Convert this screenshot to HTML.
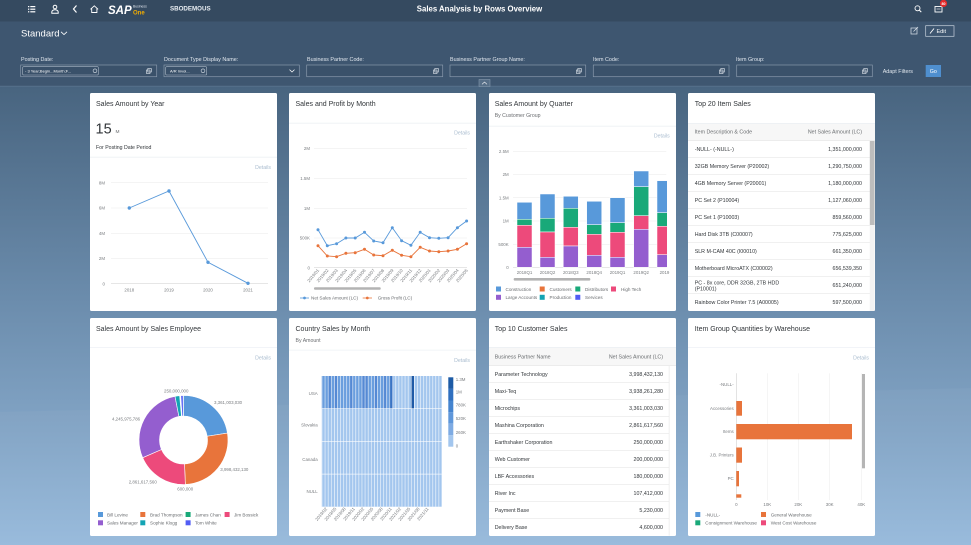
<!DOCTYPE html>
<html><head><meta charset="utf-8"><style>
html,body{margin:0;padding:0;width:971px;height:545px;overflow:hidden;background:#4a6681;}
svg{display:block;font-family:"Liberation Sans",sans-serif;}
.t{font-size:7px;fill:#32363a;}
.st{font-size:5.2px;fill:#6a6d70;}
.ax{font-size:4.4px;fill:#7a7d80;}
.det{font-size:5.2px;fill:#a9bccf;}
.lg{font-size:4.6px;fill:#6a6d70;}
.tb{font-size:5.3px;fill:#32363a;}
.th{font-size:5.3px;fill:#6a6d70;}
.fl{font-size:5.4px;fill:#e1e7ee;}
</style></head><body>
<svg width="971" height="545" viewBox="0 0 971 545" xmlns="http://www.w3.org/2000/svg">
<defs>
<linearGradient id="bg" x1="0" y1="86" x2="0" y2="545" gradientUnits="userSpaceOnUse">
<stop offset="0" stop-color="#48647f"/><stop offset="0.45" stop-color="#6a8bab"/><stop offset="1" stop-color="#96b9db"/>
</linearGradient>
<pattern id="vl" x="321.7" y="0" width="3.077" height="10" patternUnits="userSpaceOnUse"><rect x="0" y="0" width="0.55" height="10" fill="#ffffff"/></pattern>
<clipPath id="c3"><rect x="489" y="140" width="178" height="140"/></clipPath>
</defs>
<!-- background -->
<rect x="0" y="0" width="971" height="545" fill="url(#bg)"/>
<polygon points="0,412 971,388 971,545 0,545" fill="#ffffff" opacity="0.03"/>
<rect x="0" y="21.5" width="971" height="65" fill="#3e5670"/>
<rect x="0" y="0" width="971" height="21.5" fill="#354a60"/>
<rect x="0" y="85.8" width="971" height="0.7" fill="#5d7690"/>

<!-- header icons -->
<g fill="#ffffff">
<rect x="28" y="6" width="1.3" height="1.2"/><rect x="30.3" y="6" width="5" height="1.2"/>
<rect x="28" y="8.6" width="1.3" height="1.2"/><rect x="30.3" y="8.6" width="5" height="1.2"/>
<rect x="28" y="11.2" width="1.3" height="1.2"/><rect x="30.3" y="11.2" width="5" height="1.2"/>
</g>
<circle cx="55" cy="7" r="1.8" fill="none" stroke="#fff" stroke-width="1"/>
<path d="M51.8,13.2 v-1.2 a3.2,2.2 0 0 1 6.4,0 v1.2 z" fill="none" stroke="#fff" stroke-width="1"/>
<polyline points="76.5,5.5 73.5,9 76.5,12.5" fill="none" stroke="#fff" stroke-width="1.2"/>
<path d="M90.5,9.3 L94.3,5.8 L98.1,9.3 M91.7,8.5 V12.5 H96.9 V8.5" fill="none" stroke="#fff" stroke-width="0.9"/>
<text x="108" y="14" font-size="11.5" font-weight="bold" fill="#ffffff" font-style="italic">SAP</text>
<text x="133" y="7.3" font-size="3.4" fill="#e0e6ee">Business</text>
<text x="133" y="14.6" font-size="6" font-weight="bold" fill="#f0ab00">One</text>
<text x="170" y="10.5" font-size="6.2" font-weight="bold" fill="#e9eef3">SBODEMOUS</text>
<text x="479.5" y="11.3" font-size="7.8" font-weight="bold" fill="#ffffff" text-anchor="middle">Sales Analysis by Rows Overview</text>
<circle cx="917.5" cy="8.3" r="2.5" fill="none" stroke="#fff" stroke-width="0.9"/>
<line x1="919.3" y1="10.1" x2="921.3" y2="12.1" stroke="#fff" stroke-width="1"/>
<rect x="935" y="6.5" width="7" height="5.5" fill="none" stroke="#fff" stroke-width="0.9"/>
<line x1="936.5" y1="9" x2="940.5" y2="9" stroke="#fff" stroke-width="0.6"/>
<circle cx="943.5" cy="3.4" r="3.6" fill="#e52929"/>
<text x="943.5" y="4.8" font-size="3.6" fill="#fff" text-anchor="middle" font-weight="bold">80</text>

<!-- Standard -->
<text x="21" y="36.5" font-size="9.5" fill="#ffffff">Standard</text>
<polyline points="61,31.8 64,34.6 67,31.8" fill="none" stroke="#fff" stroke-width="0.8"/>
<!-- share + edit -->
<rect x="911" y="28" width="6" height="6" fill="none" stroke="#dfe6ee" stroke-width="0.7"/>
<line x1="913.5" y1="31.5" x2="918" y2="27" stroke="#dfe6ee" stroke-width="0.7"/>
<rect x="925.7" y="25.7" width="28.3" height="10.6" fill="none" stroke="#c7d1dc" stroke-width="0.7"/>
<line x1="930" y1="33.5" x2="934" y2="28.5" stroke="#fff" stroke-width="0.9"/>
<text x="936.5" y="33" font-size="5.5" fill="#ffffff">Edit</text>

<!-- filter labels -->
<text class="fl" x="21" y="61">Posting Date:</text>
<text class="fl" x="164" y="61">Document Type Display Name:</text>
<text class="fl" x="307" y="61">Business Partner Code:</text>
<text class="fl" x="450" y="61">Business Partner Group Name:</text>
<text class="fl" x="593" y="61">Item Code:</text>
<text class="fl" x="736" y="61">Item Group:</text>
<g fill="#3a516a" stroke="#8798ab" stroke-width="0.7">
<rect x="20.7" y="65" width="136" height="11.7"/>
<rect x="164" y="65" width="135.3" height="11.7"/>
<rect x="306.7" y="65" width="136" height="11.7"/>
<rect x="450" y="65" width="135.7" height="11.7"/>
<rect x="593.3" y="65" width="135.7" height="11.7"/>
<rect x="736.7" y="65" width="135.6" height="11.7"/>
</g>
<rect x="22.7" y="66.7" width="75.6" height="8.3" rx="1" fill="none" stroke="#aab8c6" stroke-width="0.6"/>
<text x="25" y="72.4" font-size="4" fill="#ffffff">- 3 Year;Begin...Month;F...</text>
<circle cx="95" cy="70.8" r="1.9" fill="none" stroke="#dfe6ee" stroke-width="0.6"/>
<rect x="165.7" y="66.7" width="41" height="8.3" rx="1" fill="none" stroke="#aab8c6" stroke-width="0.6"/>
<text x="170" y="72.4" font-size="4" fill="#ffffff">A/R Invoi...</text>
<circle cx="203" cy="70.8" r="1.9" fill="none" stroke="#dfe6ee" stroke-width="0.6"/>
<polyline points="289.5,69.6 292,72 294.5,69.6" fill="none" stroke="#fff" stroke-width="0.7"/>
<g fill="none" stroke="#e6ecf2" stroke-width="0.6">
<rect x="146.5" y="70" width="3.5" height="3.5"/><rect x="147.8" y="68.5" width="3.5" height="3.5"/>
<rect x="433.5" y="70" width="3.5" height="3.5"/><rect x="434.8" y="68.5" width="3.5" height="3.5"/>
<rect x="576.5" y="70" width="3.5" height="3.5"/><rect x="577.8" y="68.5" width="3.5" height="3.5"/>
<rect x="719.5" y="70" width="3.5" height="3.5"/><rect x="720.8" y="68.5" width="3.5" height="3.5"/>
<rect x="862.5" y="70" width="3.5" height="3.5"/><rect x="863.8" y="68.5" width="3.5" height="3.5"/>
</g>
<text x="882.7" y="73" font-size="5.4" fill="#e1e7ee">Adapt Filters</text>
<rect x="925.7" y="65" width="15.3" height="12" fill="#4f8fcf"/>
<text x="933.3" y="72.8" font-size="5.3" fill="#ffffff" text-anchor="middle">Go</text>
<rect x="479" y="79.5" width="11" height="7" fill="#566e87" stroke="#8fa2b5" stroke-width="0.5"/>
<polyline points="482,84.3 484.5,82 487,84.3" fill="none" stroke="#fff" stroke-width="0.6"/>

<!-- cards -->
<g fill="#ffffff">
<rect x="90" y="93" width="187" height="218" rx="1.5"/>
<rect x="289" y="93" width="187" height="218" rx="1.5"/>
<rect x="489" y="93" width="187" height="218" rx="1.5"/>
<rect x="688" y="93" width="187" height="218" rx="1.5"/>
<rect x="90" y="318" width="187" height="218" rx="1.5"/>
<rect x="289" y="318" width="187" height="218" rx="1.5"/>
<rect x="489" y="318" width="187" height="218" rx="1.5"/>
<rect x="688" y="318" width="187" height="218" rx="1.5"/>
</g>

<!-- ===== Card 1 ===== -->
<text class="t" x="96" y="106">Sales Amount by Year</text>
<text x="95.5" y="133.5" font-size="14.5" fill="#32363a">15</text>
<text x="115.5" y="133" font-size="4.8" fill="#6a6d70">M</text>
<text x="96" y="149" font-size="5.2" fill="#32363a">For Posting Date Period</text>
<rect x="90" y="156.8" width="187" height="0.7" fill="#e8edf2"/>
<text class="det" x="271" y="169" text-anchor="end">Details</text>
<g stroke="#eeeeee" stroke-width="0.6">
<line x1="111" y1="182.7" x2="268" y2="182.7"/><line x1="111" y1="208" x2="268" y2="208"/>
<line x1="111" y1="233.3" x2="268" y2="233.3"/><line x1="111" y1="258.3" x2="268" y2="258.3"/>
</g>
<line x1="111" y1="283.7" x2="268" y2="283.7" stroke="#d8d8d8" stroke-width="0.6"/>
<g class="ax" text-anchor="end">
<text x="105" y="184.3">8M</text><text x="105" y="209.6">6M</text><text x="105" y="234.9">4M</text><text x="105" y="259.9">2M</text><text x="105" y="285.3">0</text>
</g>
<g class="ax" text-anchor="middle">
<text x="129.3" y="291.3">2018</text><text x="169" y="291.3">2019</text><text x="208" y="291.3">2020</text><text x="248" y="291.3">2021</text>
</g>
<polyline points="129.3,208 169,191 208,262.3 248,283.3" fill="none" stroke="#5899da" stroke-width="0.9"/>
<g fill="#5899da"><circle cx="129.3" cy="208" r="1.7"/><circle cx="169" cy="191" r="1.7"/><circle cx="208" cy="262.3" r="1.7"/><circle cx="248" cy="283.3" r="1.7"/></g>

<!-- ===== Card 2 ===== -->
<text class="t" x="295.5" y="106">Sales and Profit by Month</text>
<rect x="289" y="122.8" width="187" height="0.7" fill="#e8edf2"/>
<text class="det" x="470" y="134.5" text-anchor="end">Details</text>
<g stroke="#eeeeee" stroke-width="0.6">
<line x1="314" y1="148.3" x2="467" y2="148.3"/><line x1="314" y1="178.3" x2="467" y2="178.3"/>
<line x1="314" y1="208.3" x2="467" y2="208.3"/><line x1="314" y1="238" x2="467" y2="238"/>
</g>
<line x1="314" y1="267.7" x2="467" y2="267.7" stroke="#d8d8d8" stroke-width="0.6"/>
<g class="ax" text-anchor="end">
<text x="310" y="149.9">2M</text><text x="310" y="179.9">1.5M</text><text x="310" y="209.9">1M</text><text x="310" y="239.6">500K</text><text x="310" y="269.3">0</text>
</g>
<polyline fill="none" stroke="#5899da" stroke-width="0.9" points="318,229.7 327.3,245.7 336.6,243.7 345.9,238 355.2,238 364.5,232.3 373.7,241 383,242.7 392.3,227.7 401.6,240.7 410.9,245.3 420.2,232.3 429.5,237.7 438.8,238.3 448.1,237.7 457.4,227.7 466.6,221"/>
<polyline fill="none" stroke="#e8743b" stroke-width="0.9" points="318,245.7 327.3,256 336.6,256.7 345.9,253.3 355.2,252.7 364.5,249.3 373.7,255 383,255.7 392.3,250.3 401.6,255.3 410.9,256.7 420.2,247.3 429.5,251 438.8,251.7 448.1,251 457.4,249.3 466.6,243.7"/>
<g fill="#5899da">
<circle cx="318" cy="229.7" r="1.5"/><circle cx="327.3" cy="245.7" r="1.5"/><circle cx="336.6" cy="243.7" r="1.5"/><circle cx="345.9" cy="238" r="1.5"/><circle cx="355.2" cy="238" r="1.5"/><circle cx="364.5" cy="232.3" r="1.5"/><circle cx="373.7" cy="241" r="1.5"/><circle cx="383" cy="242.7" r="1.5"/><circle cx="392.3" cy="227.7" r="1.5"/><circle cx="401.6" cy="240.7" r="1.5"/><circle cx="410.9" cy="245.3" r="1.5"/><circle cx="420.2" cy="232.3" r="1.5"/><circle cx="429.5" cy="237.7" r="1.5"/><circle cx="438.8" cy="238.3" r="1.5"/><circle cx="448.1" cy="237.7" r="1.5"/><circle cx="457.4" cy="227.7" r="1.5"/><circle cx="466.6" cy="221" r="1.5"/>
</g>
<g fill="#e8743b">
<circle cx="318" cy="245.7" r="1.5"/><circle cx="327.3" cy="256" r="1.5"/><circle cx="336.6" cy="256.7" r="1.5"/><circle cx="345.9" cy="253.3" r="1.5"/><circle cx="355.2" cy="252.7" r="1.5"/><circle cx="364.5" cy="249.3" r="1.5"/><circle cx="373.7" cy="255" r="1.5"/><circle cx="383" cy="255.7" r="1.5"/><circle cx="392.3" cy="250.3" r="1.5"/><circle cx="401.6" cy="255.3" r="1.5"/><circle cx="410.9" cy="256.7" r="1.5"/><circle cx="420.2" cy="247.3" r="1.5"/><circle cx="429.5" cy="251" r="1.5"/><circle cx="438.8" cy="251.7" r="1.5"/><circle cx="448.1" cy="251" r="1.5"/><circle cx="457.4" cy="249.3" r="1.5"/><circle cx="466.6" cy="243.7" r="1.5"/>
</g>
<g class="ax" font-size="3.9" text-anchor="end">
<text transform="translate(319.5,270.5) rotate(-50)">2019/01</text>
<text transform="translate(328.8,270.5) rotate(-50)">2019/02</text>
<text transform="translate(338.1,270.5) rotate(-50)">2019/03</text>
<text transform="translate(347.4,270.5) rotate(-50)">2019/04</text>
<text transform="translate(356.7,270.5) rotate(-50)">2019/05</text>
<text transform="translate(366,270.5) rotate(-50)">2019/06</text>
<text transform="translate(375.2,270.5) rotate(-50)">2019/07</text>
<text transform="translate(384.5,270.5) rotate(-50)">2019/08</text>
<text transform="translate(393.8,270.5) rotate(-50)">2019/09</text>
<text transform="translate(403.1,270.5) rotate(-50)">2019/10</text>
<text transform="translate(412.4,270.5) rotate(-50)">2019/11</text>
<text transform="translate(421.7,270.5) rotate(-50)">2019/12</text>
<text transform="translate(431,270.5) rotate(-50)">2020/01</text>
<text transform="translate(440.3,270.5) rotate(-50)">2020/02</text>
<text transform="translate(449.6,270.5) rotate(-50)">2020/03</text>
<text transform="translate(458.9,270.5) rotate(-50)">2020/04</text>
<text transform="translate(468.1,270.5) rotate(-50)">2020/05</text>
</g>
<rect x="314" y="287.2" width="66.7" height="2.6" rx="1" fill="#b3b3b3"/>
<line x1="300" y1="298" x2="309" y2="298" stroke="#5899da" stroke-width="0.8"/><circle cx="304.5" cy="298" r="1.4" fill="#5899da"/>
<text class="lg" x="311" y="299.7">Net Sales Amount (LC)</text>
<line x1="362.7" y1="298" x2="372" y2="298" stroke="#e8743b" stroke-width="0.8"/><circle cx="367.3" cy="298" r="1.4" fill="#e8743b"/>
<text class="lg" x="377.7" y="299.7">Gross Profit (LC)</text>

<!-- ===== Card 3 ===== -->
<text class="t" x="494.7" y="106">Sales Amount by Quarter</text>
<text class="st" x="494.7" y="117">By Customer Group</text>
<rect x="489" y="125.8" width="187" height="0.7" fill="#e8edf2"/>
<text class="det" x="669.7" y="137.5" text-anchor="end">Details</text>
<g stroke="#eeeeee" stroke-width="0.6">
<line x1="513" y1="151.3" x2="666.3" y2="151.3"/><line x1="513" y1="174.3" x2="666.3" y2="174.3"/>
<line x1="513" y1="197.7" x2="666.3" y2="197.7"/><line x1="513" y1="221" x2="666.3" y2="221"/>
<line x1="513" y1="244.3" x2="666.3" y2="244.3"/>
</g>
<line x1="513" y1="267.3" x2="666.3" y2="267.3" stroke="#d8d8d8" stroke-width="0.6"/>
<g class="ax" text-anchor="end">
<text x="508.7" y="152.9">2.5M</text><text x="508.7" y="175.9">2M</text><text x="508.7" y="199.3">1.5M</text><text x="508.7" y="222.6">1M</text><text x="508.7" y="245.9">500K</text><text x="508.7" y="268.9">0</text>
</g>
<g clip-path="url(#c3)" stroke="#ffffff" stroke-width="0.5">
<rect x="517" y="202.3" width="15" height="17" fill="#5899da"/><rect x="517" y="219.3" width="15" height="6" fill="#19a979"/><rect x="517" y="225.3" width="15" height="22" fill="#ed4a7b"/><rect x="517" y="247.3" width="15" height="20" fill="#945ecf"/>
<rect x="540" y="194" width="15" height="24.3" fill="#5899da"/><rect x="540" y="218.3" width="15" height="13.7" fill="#19a979"/><rect x="540" y="232" width="15" height="25.3" fill="#ed4a7b"/><rect x="540" y="257.3" width="15" height="10" fill="#945ecf"/>
<rect x="563.3" y="196.3" width="15" height="12" fill="#5899da"/><rect x="563.3" y="208.3" width="15" height="19" fill="#19a979"/><rect x="563.3" y="227.3" width="15" height="18.7" fill="#ed4a7b"/><rect x="563.3" y="246" width="15" height="21.3" fill="#945ecf"/>
<rect x="586.7" y="201.3" width="15" height="23.4" fill="#5899da"/><rect x="586.7" y="224.7" width="15" height="9.6" fill="#19a979"/><rect x="586.7" y="234.3" width="15" height="21" fill="#ed4a7b"/><rect x="586.7" y="255.3" width="15" height="12" fill="#945ecf"/>
<rect x="610" y="197.7" width="15" height="25" fill="#5899da"/><rect x="610" y="222.7" width="15" height="9.6" fill="#19a979"/><rect x="610" y="232.3" width="15" height="25" fill="#ed4a7b"/><rect x="610" y="257.3" width="15" height="10" fill="#945ecf"/>
<rect x="633.7" y="171" width="15" height="15.7" fill="#5899da"/><rect x="633.7" y="186.7" width="15" height="29" fill="#19a979"/><rect x="633.7" y="215.7" width="15" height="13.6" fill="#ed4a7b"/><rect x="633.7" y="229.3" width="15" height="38" fill="#945ecf"/>
<rect x="657" y="180.7" width="15" height="32" fill="#5899da"/><rect x="657" y="212.7" width="15" height="13.6" fill="#19a979"/><rect x="657" y="226.3" width="15" height="28.4" fill="#ed4a7b"/><rect x="657" y="254.7" width="15" height="12.6" fill="#945ecf"/>
</g>
<g class="ax" text-anchor="middle">
<text x="524.5" y="274.2">2018Q1</text><text x="547.5" y="274.2">2018Q2</text><text x="570.8" y="274.2">2018Q3</text><text x="594.2" y="274.2">2018Q4</text><text x="617.5" y="274.2">2019Q1</text><text x="641.2" y="274.2">2019Q2</text><text x="664.5" y="274.2">2019</text>
</g>
<rect x="513.7" y="278" width="76.6" height="2.6" rx="1" fill="#b3b3b3"/>
<g>
<rect x="496" y="286.5" width="5" height="5" fill="#5899da"/><text class="lg" x="505.5" y="290.8">Construction</text>
<rect x="539.7" y="286.5" width="5" height="5" fill="#e8743b"/><text class="lg" x="549.5" y="290.8">Customers</text>
<rect x="575.3" y="286.5" width="5" height="5" fill="#19a979"/><text class="lg" x="585" y="290.8">Distributors</text>
<rect x="611" y="286.5" width="5" height="5" fill="#ed4a7b"/><text class="lg" x="621" y="290.8">High Tech</text>
<rect x="496" y="294.8" width="5" height="5" fill="#945ecf"/><text class="lg" x="505.5" y="299.1">Large Accounts</text>
<rect x="539.7" y="294.8" width="5" height="5" fill="#13a4b4"/><text class="lg" x="549.5" y="299.1">Production</text>
<rect x="575.3" y="294.8" width="5" height="5" fill="#525df4"/><text class="lg" x="585" y="299.1">Services</text>
</g>

<!-- ===== Card 4 ===== -->
<text class="t" x="694.7" y="106">Top 20 Item Sales</text>
<rect x="688" y="123.3" width="187" height="17.4" fill="#f7f7f7"/>
<rect x="688" y="123" width="187" height="0.6" fill="#e8edf2"/>
<text class="th" x="694.7" y="133.6">Item Description &amp; Code</text>
<text class="th" x="862" y="133.6" text-anchor="end">Net Sales Amount (LC)</text>
<g fill="#e5e5e5">
<rect x="688" y="140.4" width="187" height="0.6"/><rect x="688" y="157.4" width="182" height="0.6"/><rect x="688" y="174.4" width="182" height="0.6"/><rect x="688" y="191.4" width="182" height="0.6"/><rect x="688" y="208.4" width="182" height="0.6"/><rect x="688" y="225.4" width="182" height="0.6"/><rect x="688" y="242.4" width="182" height="0.6"/><rect x="688" y="259.4" width="182" height="0.6"/><rect x="688" y="276.4" width="182" height="0.6"/><rect x="688" y="293.4" width="182" height="0.6"/>
</g>
<rect x="869.8" y="141" width="4.8" height="84" fill="#bdbdbd"/>
<rect x="869.8" y="225" width="4.8" height="86" fill="#f3f3f3"/>
<g class="tb">
<text x="694.7" y="151">-NULL- (-NULL-)</text><text x="862" y="151" text-anchor="end">1,351,000,000</text>
<text x="694.7" y="168">32GB Memory Server (P20002)</text><text x="862" y="168" text-anchor="end">1,290,750,000</text>
<text x="694.7" y="185">4GB Memory Server (P20001)</text><text x="862" y="185" text-anchor="end">1,180,000,000</text>
<text x="694.7" y="202">PC Set 2 (P10004)</text><text x="862" y="202" text-anchor="end">1,127,060,000</text>
<text x="694.7" y="219">PC Set 1 (P10003)</text><text x="862" y="219" text-anchor="end">859,560,000</text>
<text x="694.7" y="236">Hard Disk 3TB (C00007)</text><text x="862" y="236" text-anchor="end">775,625,000</text>
<text x="694.7" y="253">SLR M-CAM 40C (I00010)</text><text x="862" y="253" text-anchor="end">661,350,000</text>
<text x="694.7" y="270">Motherboard MicroATX (C00002)</text><text x="862" y="270" text-anchor="end">656,539,350</text>
<text x="694.7" y="284.5">PC - 8x core, DDR 32GB, 2TB HDD</text><text x="694.7" y="290.5">(P10001)</text><text x="862" y="287" text-anchor="end">651,240,000</text>
<text x="694.7" y="304">Rainbow Color Printer 7.5 (A00005)</text><text x="862" y="304" text-anchor="end">597,500,000</text>
</g>

<!-- ===== Card 5 ===== -->
<text class="t" x="96" y="331">Sales Amount by Sales Employee</text>
<rect x="90" y="347" width="187" height="0.6" fill="#e8edf2"/>
<text class="det" x="271" y="359.3" text-anchor="end">Details</text>
<g stroke="#ffffff" stroke-width="0.6">
<path d="M183.5,395.5 A44.5,44.5 0 0 1 227.45,433.04 L207.2,436.25 A24,24 0 0 0 183.5,416 Z" fill="#5899da"/>
<path d="M227.45,433.04 A44.5,44.5 0 0 1 185.36,484.46 L184.51,463.98 A24,24 0 0 0 207.2,436.25 Z" fill="#e8743b"/>
<path d="M185.36,484.46 A44.5,44.5 0 0 1 142.66,457.67 L161.47,449.53 A24,24 0 0 0 184.51,463.98 Z" fill="#ed4a7b"/>
<path d="M142.66,457.67 A44.5,44.5 0 0 1 175.01,396.32 L178.92,416.44 A24,24 0 0 0 161.47,449.53 Z" fill="#945ecf"/>
<path d="M175.01,396.32 A44.5,44.5 0 0 1 179.62,395.67 L181.41,416.09 A24,24 0 0 0 178.92,416.44 Z" fill="#13a4b4"/>
<path d="M180.79,395.58 A44.5,44.5 0 0 1 183.11,395.5 L183.29,416 A24,24 0 0 0 182.04,416.05 Z" fill="#525df4"/>
</g>
<g class="ax" font-size="4.5" fill="#555">
<text x="164" y="392.5">250,000,000</text>
<text x="214" y="404">3,361,003,030</text>
<text x="112" y="420.3">4,245,975,786</text>
<text x="220.3" y="471">3,998,432,130</text>
<text x="128.7" y="483.6">2,861,617,560</text>
<text x="177.3" y="490.6">600,000</text>
</g>
<g>
<rect x="98" y="512" width="5" height="5" fill="#5899da"/><text class="lg" x="107" y="516.3">Bill Levine</text>
<rect x="140.3" y="512" width="5" height="5" fill="#e8743b"/><text class="lg" x="150" y="516.3">Brad Thompson</text>
<rect x="185.6" y="512" width="5" height="5" fill="#19a979"/><text class="lg" x="195" y="516.3">James Chan</text>
<rect x="224.6" y="512" width="5" height="5" fill="#ed4a7b"/><text class="lg" x="234" y="516.3">Jim Bossick</text>
<rect x="98" y="520.3" width="5" height="5" fill="#945ecf"/><text class="lg" x="107" y="524.6">Sales Manager</text>
<rect x="140.3" y="520.3" width="5" height="5" fill="#13a4b4"/><text class="lg" x="150" y="524.6">Sophie Klogg</text>
<rect x="185.6" y="520.3" width="5" height="5" fill="#525df4"/><text class="lg" x="195" y="524.6">Tom White</text>
</g>

<!-- ===== Card 6 ===== -->
<text class="t" x="295.5" y="331">Country Sales by Month</text>
<text class="st" x="295.5" y="342">By Amount</text>
<rect x="289" y="349.8" width="187" height="0.6" fill="#e8edf2"/>
<text class="det" x="470" y="362" text-anchor="end">Details</text>
<rect x="321.7" y="376" width="120" height="130.7" fill="#a3c6ee"/>
<rect x="321.7" y="376" width="70.8" height="32.7" fill="#6a9ede"/>
<g fill="#5589d4">
<rect x="327.85" y="376" width="3.08" height="32.7"/><rect x="334" y="376" width="3.08" height="32.7"/><rect x="349.4" y="376" width="3.08" height="32.7"/><rect x="361.7" y="376" width="3.08" height="32.7"/><rect x="364.8" y="376" width="3.08" height="32.7"/><rect x="374" y="376" width="3.08" height="32.7"/><rect x="383.2" y="376" width="3.08" height="32.7"/>
</g>
<rect x="389.4" y="376" width="3.08" height="32.7" fill="#3b74c4"/>
<rect x="410.93" y="376" width="3.08" height="32.7" fill="#1f5aa6"/>
<rect x="321.7" y="376" width="120" height="130.7" fill="url(#vl)"/>
<g fill="#ffffff"><rect x="321.7" y="408.4" width="120" height="0.6"/><rect x="321.7" y="441.1" width="120" height="0.6"/><rect x="321.7" y="473.8" width="120" height="0.6"/></g>
<g class="ax" text-anchor="end">
<text x="317.7" y="394.8">USA</text><text x="317.7" y="426.5">Slovakia</text><text x="317.7" y="460.8">Canada</text><text x="317.7" y="493.2">NULL</text>
</g>
<rect x="448.3" y="377.3" width="5" height="11.6" fill="#1d5ba6"/>
<rect x="448.3" y="388.9" width="5" height="11.6" fill="#2f6fbf"/>
<rect x="448.3" y="400.5" width="5" height="11.6" fill="#4584cf"/>
<rect x="448.3" y="412.1" width="5" height="11.6" fill="#5f97da"/>
<rect x="448.3" y="423.7" width="5" height="11.6" fill="#7eabe3"/>
<rect x="448.3" y="435.3" width="5" height="11.4" fill="#a3c6ee"/>
<g class="ax" font-size="4.2">
<text x="455.7" y="381">1.3M</text><text x="455.7" y="393.4">1M</text><text x="455.7" y="406.7">780K</text><text x="455.7" y="420">520K</text><text x="455.7" y="434">260K</text><text x="455.7" y="447.7">0</text>
</g>
<g class="ax" font-size="3.9" text-anchor="end">
<text transform="translate(327.5,509) rotate(-50)">2019/02</text>
<text transform="translate(336.7,509) rotate(-50)">2019/05</text>
<text transform="translate(346,509) rotate(-50)">2019/08</text>
<text transform="translate(355.2,509) rotate(-50)">2019/11</text>
<text transform="translate(364.4,509) rotate(-50)">2020/02</text>
<text transform="translate(373.6,509) rotate(-50)">2020/05</text>
<text transform="translate(382.9,509) rotate(-50)">2020/08</text>
<text transform="translate(392.1,509) rotate(-50)">2020/11</text>
<text transform="translate(401.3,509) rotate(-50)">2021/02</text>
<text transform="translate(410.6,509) rotate(-50)">2021/05</text>
<text transform="translate(419.8,509) rotate(-50)">2021/08</text>
<text transform="translate(429,509) rotate(-50)">2021/11</text>
</g>

<!-- ===== Card 7 ===== -->
<text class="t" x="494.7" y="331">Top 10 Customer Sales</text>
<rect x="489" y="347.3" width="187" height="18.4" fill="#f7f7f7"/>
<rect x="489" y="347" width="187" height="0.6" fill="#e8edf2"/>
<text class="th" x="494.7" y="358.3">Business Partner Name</text>
<text class="th" x="663" y="358.3" text-anchor="end">Net Sales Amount (LC)</text>
<g fill="#e5e5e5">
<rect x="489" y="365.4" width="187" height="0.6"/><rect x="489" y="382.4" width="180" height="0.6"/><rect x="489" y="399.4" width="180" height="0.6"/><rect x="489" y="416.4" width="180" height="0.6"/><rect x="489" y="433.4" width="180" height="0.6"/><rect x="489" y="450.4" width="180" height="0.6"/><rect x="489" y="467.4" width="180" height="0.6"/><rect x="489" y="484.4" width="180" height="0.6"/><rect x="489" y="501.4" width="180" height="0.6"/><rect x="489" y="518.4" width="180" height="0.6"/>
<rect x="668.8" y="365.7" width="0.6" height="170"/>
</g>
<g class="tb">
<text x="494.7" y="376">Parameter Technology</text><text x="663" y="376" text-anchor="end">3,998,432,130</text>
<text x="494.7" y="393">Maxi-Teq</text><text x="663" y="393" text-anchor="end">3,938,261,280</text>
<text x="494.7" y="410">Microchips</text><text x="663" y="410" text-anchor="end">3,361,003,030</text>
<text x="494.7" y="427">Mashina Corporation</text><text x="663" y="427" text-anchor="end">2,861,617,560</text>
<text x="494.7" y="444">Earthshaker Corporation</text><text x="663" y="444" text-anchor="end">250,000,000</text>
<text x="494.7" y="461">Web Customer</text><text x="663" y="461" text-anchor="end">200,000,000</text>
<text x="494.7" y="478">LBF Accessories</text><text x="663" y="478" text-anchor="end">180,000,000</text>
<text x="494.7" y="495">River Inc</text><text x="663" y="495" text-anchor="end">107,412,000</text>
<text x="494.7" y="512">Payment Base</text><text x="663" y="512" text-anchor="end">5,230,000</text>
<text x="494.7" y="529">Delivery Base</text><text x="663" y="529" text-anchor="end">4,600,000</text>
</g>

<!-- ===== Card 8 ===== -->
<text class="t" x="694.7" y="331">Item Group Quantities by Warehouse</text>
<rect x="688" y="347" width="187" height="0.6" fill="#e8edf2"/>
<text class="det" x="869" y="359.3" text-anchor="end">Details</text>
<g stroke="#eeeeee" stroke-width="0.6">
<line x1="767.3" y1="373.3" x2="767.3" y2="500"/><line x1="798.3" y1="373.3" x2="798.3" y2="500"/>
<line x1="829.7" y1="373.3" x2="829.7" y2="500"/><line x1="861.3" y1="373.3" x2="861.3" y2="500"/>
</g>
<line x1="736.3" y1="373.3" x2="736.3" y2="500" stroke="#d0d0d0" stroke-width="0.6"/>
<g class="ax" text-anchor="end">
<text x="733.7" y="385.8">-NULL-</text><text x="733.7" y="409.8">Accessories</text><text x="733.7" y="433.2">Items</text><text x="733.7" y="456.5">J.B. Printers</text><text x="733.7" y="479.8">PC</text>
</g>
<g fill="#e8743b">
<rect x="736.3" y="401" width="5.7" height="14.7"/>
<rect x="736.3" y="424" width="115.7" height="15.3"/>
<rect x="736.3" y="447.5" width="5.7" height="15.2"/>
<rect x="736.3" y="471" width="2.7" height="15.3"/>
<rect x="736.3" y="494.3" width="5" height="3.4"/>
</g>
<rect x="862" y="374" width="3" height="94.3" fill="#b5b5b5"/>
<g class="ax" text-anchor="middle">
<text x="736.3" y="506">0</text><text x="767.3" y="506">10K</text><text x="798.3" y="506">20K</text><text x="829.7" y="506">30K</text><text x="861.3" y="506">40K</text>
</g>
<g>
<rect x="695.3" y="512" width="5" height="5" fill="#5899da"/><text class="lg" x="705.3" y="516.3">-NULL-</text>
<rect x="761" y="512" width="5" height="5" fill="#e8743b"/><text class="lg" x="770.7" y="516.3">General Warehouse</text>
<rect x="695.3" y="520.3" width="5" height="5" fill="#19a979"/><text class="lg" x="705.3" y="524.6">Consignment Warehouse</text>
<rect x="761" y="520.3" width="5" height="5" fill="#ed4a7b"/><text class="lg" x="770.7" y="524.6">West Cost Warehouse</text>
</g>
</svg>
</body></html>
